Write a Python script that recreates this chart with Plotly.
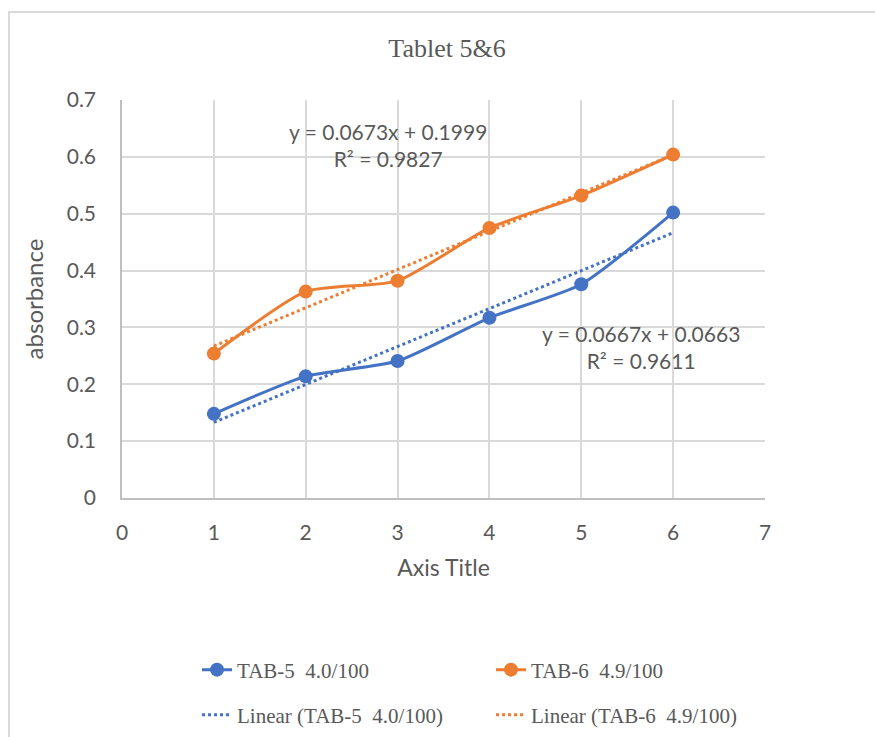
import plotly.graph_objects as go

# Tablet dissolution absorbance readings
x_vals = [1, 2, 3, 4, 5, 6]
tab5 = [0.148, 0.214, 0.241, 0.317, 0.376, 0.502]
tab6 = [0.254, 0.363, 0.382, 0.475, 0.532, 0.604]

# Linear trendline coefficients (slope, intercept) and R²
tab5_fit = [0.0667, 0.0663]
tab6_fit = [0.0673, 0.1999]
tab5_r2 = 0.9611
tab6_r2 = 0.9827

names = ["TAB-5  4.0/100", "TAB-6  4.9/100"]
BLUE = "#4472C4"
ORANGE = "#ED7D31"
GRAY = "#595959"
GRID = "#D9D9D9"

fig = go.Figure()

for ys, col, nm in [(tab5, BLUE, names[0]), (tab6, ORANGE, names[1])]:
    fig.add_trace(go.Scatter(
        x=x_vals, y=ys, mode="lines+markers", name=nm, legend="legend",
        line=dict(color=col, width=3, shape="spline", smoothing=0.6),
        marker=dict(color=col, size=14),
    ))

for (m, b), col, nm in [(tab5_fit, BLUE, names[0]), (tab6_fit, ORANGE, names[1])]:
    fig.add_trace(go.Scatter(
        x=x_vals, y=[m * xv + b for xv in x_vals], mode="lines",
        name=f"Linear ({nm})", legend="legend2",
        line=dict(color=col, width=3, dash="dot"),
    ))

# Trendline equations
eq_font = dict(family="Lato, Liberation Sans, sans-serif", size=21, color=GRAY)
fig.add_annotation(
    x=2.9, y=0.621, xref="x", yref="y", showarrow=False, align="center",
    text=f"y = {tab6_fit[0]}x + {tab6_fit[1]}<br>R² = {tab6_r2}", font=eq_font,
)
fig.add_annotation(
    x=5.65, y=0.265, xref="x", yref="y", showarrow=False, align="center",
    text=f"y = {tab5_fit[0]}x + {tab5_fit[1]}<br>R² = {tab5_r2}", font=eq_font,
)

# Chart frame
fig.add_shape(
    type="path", xref="paper", yref="paper",
    path="M -0.1757 -0.7 L -0.1757 1.221 L 1.25 1.221",
    line=dict(color=GRID, width=2),
)

tick_font = dict(family="Lato, Liberation Sans, sans-serif", size=21, color=GRAY)
xtitle_font = dict(family="Lato, Liberation Sans, sans-serif", size=23, color=GRAY)
ytitle_font = dict(family="Lato, Liberation Sans, sans-serif", size=24, color=GRAY)
legend_font = dict(family="Liberation Serif, Times New Roman, serif", size=21, color=GRAY)

legend_common = dict(
    orientation="h", x=(197 - 122) / 643, xanchor="left", yanchor="middle",
    entrywidth=249, entrywidthmode="pixels", font=legend_font,
    bgcolor="rgba(0,0,0,0)",
)

fig.update_layout(
    width=875, height=737,
    margin=dict(l=122, r=110, t=100, b=239, autoexpand=False),
    paper_bgcolor="white", plot_bgcolor="white",
    title=dict(
        text="Tablet 5&6", x=(447 / 875), xanchor="center", y=1 - 48 / 737, yanchor="middle",
        font=dict(family="Liberation Serif, Times New Roman, serif", size=26, color=GRAY),
    ),
    xaxis=dict(
        range=[0, 7], dtick=1, tick0=0, showgrid=True, gridcolor=GRID, gridwidth=1.5,
        zeroline=False, showline=True, linecolor="#BFBFBF", linewidth=1.5,
        ticks="", tickfont=tick_font, ticklabelstandoff=15,
        title=dict(text="Axis Title", font=xtitle_font, standoff=17),
    ),
    yaxis=dict(
        range=[0, 0.7], dtick=0.1, tick0=0, showgrid=True, gridcolor=GRID, gridwidth=1.5,
        zeroline=False, showline=True, linecolor="#BFBFBF", linewidth=1.5,
        ticks="", tickfont=tick_font, ticklabelstandoff=20, tickformat="~g",
        title=dict(text="absorbance", font=ytitle_font, standoff=16),
    ),
    legend=dict(y=(498 - 670) / 398, **legend_common),
    legend2=dict(y=(498 - 715) / 398, **legend_common),
)

fig.write_html("out.html")
